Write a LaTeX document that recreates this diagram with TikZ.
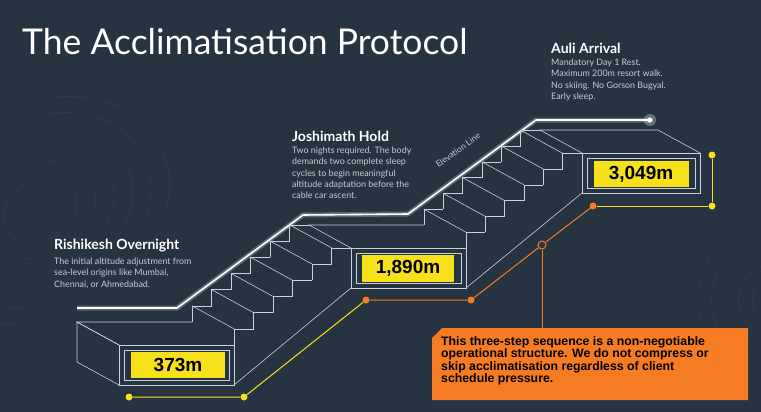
\documentclass[tikz,border=0pt]{standalone}
\usepackage{fontspec}
\setmainfont{Lato}
\newfontfamily\calloutfont{Liberation Sans}
\usetikzlibrary{positioning,calc}

\definecolor{bgslate}{HTML}{263442}
\definecolor{wire}{HTML}{C9D0D8}
\definecolor{tagyellow}{HTML}{F7E11B}
\definecolor{dotorange}{HTML}{F57C22}
\definecolor{desc}{HTML}{C6CCD3}

\tikzset{
  head/.style={anchor=west,text=white,font=\bfseries\fontsize{14}{16}\selectfont,inner sep=0pt},
  body/.style={anchor=north west,text=desc,font=\fontsize{8.9}{11.4}\selectfont,align=left,inner sep=0pt},
  tag/.style={fill=tagyellow,text=black,font=\calloutfont\bfseries\fontsize{19}{20}\selectfont,inner sep=0pt},
  dot/.style={circle,fill=#1,inner sep=0pt,minimum size=7pt},
  frame/.style={draw=wire,line width=0.6pt},
}

\begin{document}
\begin{tikzpicture}[x=1pt,y=-1pt]
\fill[bgslate] (0,0) rectangle (761,412);
\useasboundingbox (0,0) rectangle (761,412);

% faint contour lines
\foreach \r in {30,45,60,75,90,105}
  \draw[white,opacity=0.06,line width=0.4pt,rotate around={30:(40,210)}] (40,210) ellipse ({\r*1.3} and \r);
\foreach \r in {20,35,50,65,80}
  \draw[white,opacity=0.06,line width=0.4pt] (770,300) ellipse ({\r*0.9} and \r);

% title
\node[anchor=west,text=white,font=\fontsize{35.5}{38}\selectfont,inner sep=0pt] (title) at (22,42) {The Acclimatisation Protocol};

% elevation line
\coordinate (e0) at (77,308);
\coordinate (e1) at (177,308);
\coordinate (e2) at (303,215);
\coordinate (e3) at (408,214);
\coordinate (e4) at (536,120);
\coordinate (e5) at (650,120);
\draw[white,opacity=0.25,line width=5pt,line join=round] (e0)--(e1)--(e2)--(e3)--(e4)--(e5);
\draw[white,line width=1.6pt,line join=round] (e0)--(e1)--(e2)--(e3)--(e4)--(e5);
\fill[white,opacity=0.3] (e5) circle (6pt);
\fill[white] (e5) circle (2.5pt);
\node[text=desc,font=\fontsize{8.5}{10}\selectfont,rotate=36] (elev) at (458,150) {Elevation Line};

% staircase wireframe
\def\dx{-42}\def\dy{-23}
\begin{scope}[frame]
  % platforms: top front edge, back edge
  \foreach \xa/\xb/\yt/\yb in {119/234/345/385,351/466/248/288,582/700/153/193}{
    \draw (\xa,\yt) rectangle (\xb,\yb);
    \draw (\xa,\yt) -- ++(\dx,\dy) -- ($(\xb,\yt)+(\dx,\dy)$);
    \draw (\xa+5,\yt+5) rectangle (\xb-5,\yb-5);
  }
  \draw (119,345) -- (77,322) -- (77,362) -- (119,385);
  \draw (700,153) -- ++(\dx,\dy);
  % flights
  \foreach \x/\y/\w/\h in {234/345/19.5/16.2,466/248/19.3/15.8}{
    \foreach \i in {0,...,5}{
      \pgfmathsetmacro\xs{\x+\i*\w}
      \pgfmathsetmacro\ys{\y-\i*\h}
      \pgfmathsetmacro\xe{\xs+\w}
      \pgfmathsetmacro\ye{\ys-\h}
      \draw (\xs,\ys) -- (\xs,\ye) -- (\xe,\ye);
      \draw ($(\xs,\ys)+(\dx,\dy)$) -- ($(\xs,\ye)+(\dx,\dy)$) -- ($(\xe,\ye)+(\dx,\dy)$);
      \draw (\xs,\ye) -- ++(\dx,\dy);
    }
  }
  \draw (234,385) -- (351,288);
  \draw (466,288) -- (582,193);
\end{scope}

% altitude tags
\node[tag,minimum width=94pt,minimum height=26pt] (t1) at (178,365) {373m};
\node[tag,minimum width=92pt,minimum height=27pt] (t2) at (408,268) {1,890m};
\node[tag,minimum width=95pt,minimum height=26pt] (t3) at (641,174) {3,049m};

% stage texts
\node[head] (h1) at (54,246) {Rishikesh Overnight};
\node[body] (b1) at ($(h1.south west)+(0,5)$) {The initial altitude adjustment from\\sea-level origins like Mumbai,\\Chennai, or Ahmedabad.};
\node[head] (h2) at (292,136) {Joshimath Hold};
\node[body] (b2) at ($(h2.south west)+(0,5)$) {Two nights required. The body\\demands two complete sleep\\cycles to begin meaningful\\altitude adaptation before the\\cable car ascent.};
\node[head] (h3) at (551,48) {Auli Arrival};
\node[body] (b3) at ($(h3.south west)+(0,5)$) {Mandatory Day 1 Rest.\\Maximum 200m resort walk.\\No skiing. No Gorson Bugyal.\\Early sleep.};

% tracker line
\node[dot=tagyellow] (p1) at (129,397) {};
\node[dot=tagyellow] (p2) at (244,397) {};
\node[dot=dotorange] (p3) at (366,300) {};
\node[dot=dotorange] (p4) at (471,300) {};
\node[dot=dotorange] (p5) at (593,206) {};
\node[dot=tagyellow] (p6) at (712,206) {};
\node[dot=tagyellow] (p7) at (712,155) {};
\node[circle,draw=dotorange,line width=1pt,inner sep=0pt,minimum size=8pt] (ring) at (542,245) {};
\draw[tagyellow,line width=1pt] (p1) -- (p2) -- (p3);
\draw[dotorange,line width=1pt] (p3) -- (p4) -- (ring) -- (p5);
\draw[tagyellow,line width=1pt] (p5) -- (p6) -- (p7);

% callout
\fill[dotorange] (442,328) -- (748,328) -- (748,400) -- (432,400) -- (432,338) -- cycle;
\node[anchor=north west,inner sep=0pt,align=left,text=black,font=\calloutfont\bfseries\fontsize{12.3}{12.6}\selectfont] (note) at (441,336) {This three-step sequence is a non-negotiable\\operational structure. We do not compress or\\skip acclimatisation regardless of client\\schedule pressure.};
\coordinate (notetop) at (542,328);
\draw[dotorange,line width=1pt] (ring) -- (notetop);
\end{tikzpicture}
\end{document}
